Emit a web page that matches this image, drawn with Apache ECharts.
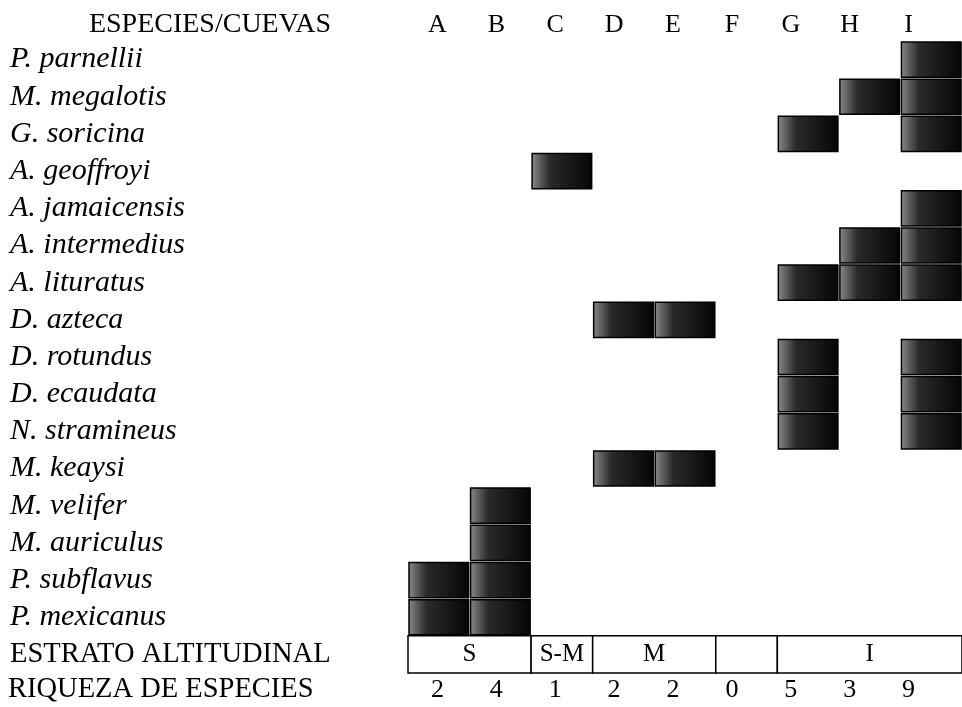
<!DOCTYPE html>
<html>
<head>
<meta charset="utf-8">
<title>Especies / Cuevas</title>
<script src="https://cdn.jsdelivr.net/npm/echarts@6/dist/echarts.min.js"></script>
<style>
    html, body { margin: 0; padding: 0; background: #fff; }
    #chart { width: 962px; height: 707px; }
</style>
</head>
<body>
<div id="chart"></div>
<script>
// datos de la figura
const titulo = 'ESPECIES/CUEVAS';
const cuevas = ['A', 'B', 'C', 'D', 'E', 'F', 'G', 'H', 'I'];
const especies = [
    'P. parnellii', 'M. megalotis', 'G. soricina', 'A. geoffroyi',
    'A. jamaicensis', 'A. intermedius', 'A. lituratus', 'D. azteca',
    'D. rotundus', 'D. ecaudata', 'N. stramineus', 'M. keaysi',
    'M. velifer', 'M. auriculus', 'P. subflavus', 'P. mexicanus'
];
// cuevas donde se registró cada especie (mismo orden que especies)
const presencia = [
    ['I'], ['H', 'I'], ['G', 'I'], ['C'],
    ['I'], ['H', 'I'], ['G', 'H', 'I'], ['D', 'E'],
    ['G', 'I'], ['G', 'I'], ['G', 'I'], ['D', 'E'],
    ['B'], ['B'], ['A', 'B'], ['A', 'B']
];
const filaEstrato = 'ESTRATO ALTITUDINAL';
const estratoNombres = ['S', 'S-M', 'M', '', 'I'];
const estratoDesde = ['A', 'C', 'D', 'F', 'G'];
const estratoHasta = ['B', 'C', 'E', 'F', 'I'];
const filaRiqueza = 'RIQUEZA DE ESPECIES';
const riqueza = [2, 4, 1, 2, 2, 0, 5, 3, 9];

const serif = '"Liberation Serif", "Times New Roman", serif';

const celdas = [];
presencia.forEach((lista, i) => {
    lista.forEach(c => celdas.push([c, especies[i]]));
});

const chart = echarts.init(document.getElementById('chart'));

const option = {
    animation: false,
    grid: [
        // matriz + estrato
        { left: 408, top: 41, width: 562, height: 632 },
        // cabecera con las cuevas
        { left: 408, top: 6, width: 530, height: 38 },
        // riqueza
        { left: 408, top: 673, width: 530, height: 37 }
    ],
    xAxis: [
        {
            gridIndex: 0, type: 'category', data: cuevas,
            axisLine: { show: false }, axisTick: { show: false }, axisLabel: { show: false }
        },
        {
            gridIndex: 1, type: 'category', data: cuevas, position: 'bottom',
            axisLine: { show: false }, axisTick: { show: false },
            axisLabel: { margin: -19, verticalAlign: 'middle', fontFamily: serif, fontSize: 26, color: '#000' }
        },
        {
            gridIndex: 2, type: 'category', data: cuevas,
            axisLine: { show: false }, axisTick: { show: false }, axisLabel: { show: false }
        }
    ],
    yAxis: [
        {
            gridIndex: 0, type: 'category', inverse: true,
            data: especies.concat([filaEstrato]),
            axisLine: { show: false }, axisTick: { show: false },
            axisLabel: {
                align: 'left', margin: 398, color: '#000',
                formatter: v => v === filaEstrato ? '{n|' + v + '}' : '{i|' + v + '}',
                rich: {
                    i: { fontFamily: serif, fontStyle: 'italic', fontSize: 30, color: '#000' },
                    n: { fontFamily: serif, fontSize: 28.5, color: '#000' }
                }
            }
        },
        {
            gridIndex: 1, type: 'category', data: [titulo],
            axisLine: { show: false }, axisTick: { show: false },
            axisLabel: { align: 'center', margin: 198, fontFamily: serif, fontSize: 28, color: '#000' }
        },
        {
            gridIndex: 2, type: 'category', data: [filaRiqueza],
            axisLine: { show: false }, axisTick: { show: false },
            axisLabel: { align: 'left', margin: 400, fontFamily: serif, fontSize: 28.5, color: '#000' }
        }
    ],
    series: [
        {
            // presencia de cada especie
            type: 'custom',
            xAxisIndex: 0, yAxisIndex: 0,
            data: celdas,
            renderItem(params, api) {
                const p = api.coord([api.value(0), api.value(1)]);
                const s = api.size([1, 1]);
                return {
                    type: 'rect',
                    shape: { x: p[0] - s[0] / 2 + 1, y: p[1] - s[1] / 2 + 1, width: s[0] - 2, height: s[1] - 2 },
                    style: {
                        fill: new echarts.graphic.LinearGradient(0, 0, 1, 0, [
                            { offset: 0, color: '#8a8a8a' },
                            { offset: 0.3, color: '#2a2a2a' },
                            { offset: 1, color: '#050505' }
                        ]),
                        stroke: '#000',
                        lineWidth: 1.5
                    }
                };
            }
        },
        {
            // estrato altitudinal
            type: 'custom',
            xAxisIndex: 0, yAxisIndex: 0,
            data: estratoDesde.map((d, i) => [d, filaEstrato, cuevas.indexOf(estratoHasta[i])]),
            renderItem(params, api) {
                const a = api.coord([api.value(0), api.value(1)]);
                const b = api.coord([api.value(2), api.value(1)]);
                const s = api.size([1, 1]);
                const x0 = a[0] - s[0] / 2;
                const x1 = b[0] + s[0] / 2;
                return {
                    type: 'group',
                    children: [
                        {
                            type: 'rect',
                            shape: { x: x0, y: a[1] - s[1] / 2, width: x1 - x0, height: s[1] },
                            style: { fill: '#fff', stroke: '#000', lineWidth: 1.5 }
                        },
                        {
                            type: 'text',
                            style: {
                                text: estratoNombres[params.dataIndex],
                                x: (x0 + x1) / 2, y: a[1],
                                align: 'center', verticalAlign: 'middle',
                                font: '25px ' + serif, fill: '#000'
                            }
                        }
                    ]
                };
            }
        },
        {
            // riqueza de especies
            type: 'custom',
            xAxisIndex: 2, yAxisIndex: 2,
            data: cuevas.map((c, i) => [c, filaRiqueza, riqueza[i]]),
            renderItem(params, api) {
                const p = api.coord([api.value(0), api.value(1)]);
                return {
                    type: 'text',
                    style: {
                        text: String(riqueza[params.dataIndex]),
                        x: p[0], y: p[1],
                        align: 'center', verticalAlign: 'middle',
                        font: '26px ' + serif, fill: '#000'
                    }
                };
            }
        }
    ]
};

chart.setOption(option);
</script>
</body>
</html>
